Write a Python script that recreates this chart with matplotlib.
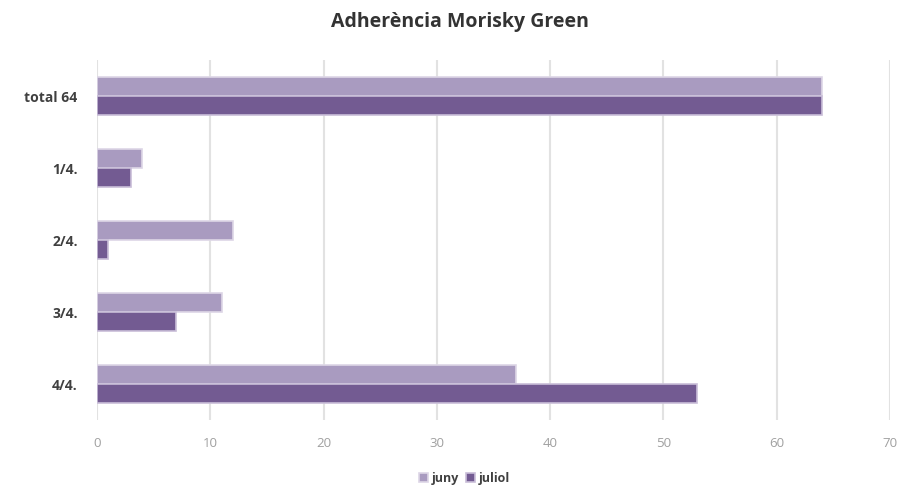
import matplotlib
matplotlib.use("Agg")
import matplotlib.pyplot as plt
import numpy as np

categories = ["total 64", "1/4.", "2/4.", "3/4.", "4/4."]
juny = [64, 4, 12, 11, 37]
juliol = [64, 3, 1, 7, 53]
series_names = ["juny", "juliol"]
xticks = [0, 10, 20, 30, 40, 50, 60, 70]

col_juny = "#a99bc0"
col_juliol = "#735b92"

plt.rcParams["font.family"] = ["Open Sans", "DejaVu Sans"]

fig = plt.figure(figsize=(8.97, 4.87), dpi=100)
ax = fig.add_axes([97 / 897, 1 - 420 / 487, (890 - 97) / 897, 360 / 487])

y = np.arange(len(categories))
h = 0.265
ax.barh(y - h / 2, juny, height=h, color=col_juny, edgecolor="#ddd6e6",
        linewidth=1.2, label=series_names[0], zorder=3)
ax.barh(y + h / 2, juliol, height=h, color=col_juliol, edgecolor="#c9bed8",
        linewidth=1.2, label=series_names[1], zorder=3)

ax.set_ylim(len(categories) - 0.5, -0.5)
ax.set_xlim(0, 70)
ax.set_xticks(xticks)
ax.set_yticks(y)
ax.set_yticklabels(categories, fontsize=10, fontweight="bold", color="#404040")
ax.tick_params(axis="x", colors="#a0a0a0", labelsize=9.5, length=0, pad=12)
ax.tick_params(axis="y", length=0, pad=14)
ax.xaxis.grid(True, color="#e2e2e2", linewidth=1.5, zorder=0)
for s in ax.spines.values():
    s.set_visible(False)

fig.suptitle("Adherència Morisky Green", x=0.513, y=0.975, fontsize=14,
             fontweight="bold", color="#333333")

fig.legend(loc="center", bbox_to_anchor=(0.518, 0.018), ncol=2, frameon=False,
           fontsize=9, handlelength=0.7, handleheight=0.7, columnspacing=0.6,
           handletextpad=0.3, labelcolor="#404040",
           prop={"weight": "bold", "size": 9})

fig.savefig("out.png", dpi=100, facecolor="white")
